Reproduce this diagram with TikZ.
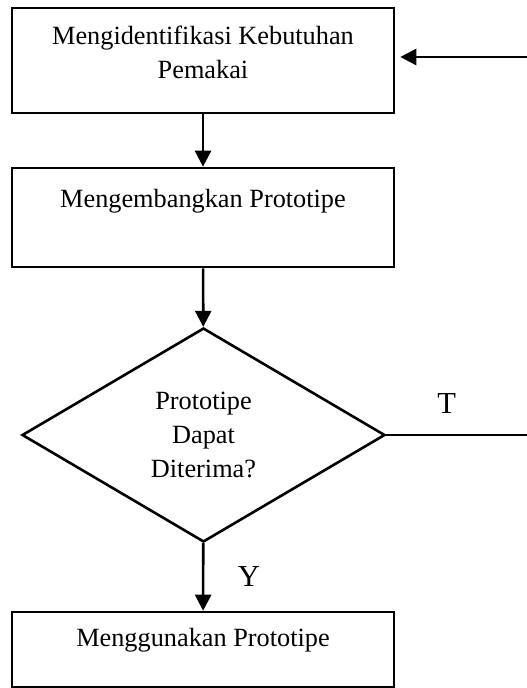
\documentclass[tikz,border=0pt]{standalone}
\usepackage{fontspec}
\setmainfont{Liberation Serif}
\usetikzlibrary{shapes.geometric,arrows.meta}

\begin{document}
\begin{tikzpicture}[x=1pt,y=-1pt,line width=2.6pt,
  font=\fontsize{26.3}{34}\selectfont,
  box/.style={draw,rectangle,minimum width=382pt,align=center,text height=18pt},
  decision/.style={draw,diamond,aspect=1.7,minimum width=363pt,minimum height=214pt,align=center},
  answer/.style={font=\fontsize{30.5}{36}\selectfont},
  arr/.style={-{Triangle[length=16pt,width=16pt]}}]
\useasboundingbox (0,0) rectangle (527,688);

\node[box,minimum height=105pt,text height=52pt,text depth=17pt](identify) at (203,60.5){Mengidentifikasi Kebutuhan\\Pemakai};
\node[box,minimum height=99pt,text depth=39pt](develop) at (203,217.5){Mengembangkan Prototipe};
\node[decision](check) at (203.5,435){Prototipe\\Dapat\\Diterima?};
\node[box,minimum height=75pt,text depth=23.6pt](use) at (203,649.5){Menggunakan Prototipe};

\coordinate (ret) at (527,57);
\coordinate (back) at (527,435);

\draw[arr,shorten >=5pt](ret)--(ret -| identify.east);
\draw[arr](identify)--(develop);
\draw[arr](develop)--(check);
\draw[arr](check)--node[answer,right=30pt]{Y}(use);
\draw(check.east)--node[answer,pos=0.43,above=17pt]{T}(back);

\end{tikzpicture}
\end{document}
